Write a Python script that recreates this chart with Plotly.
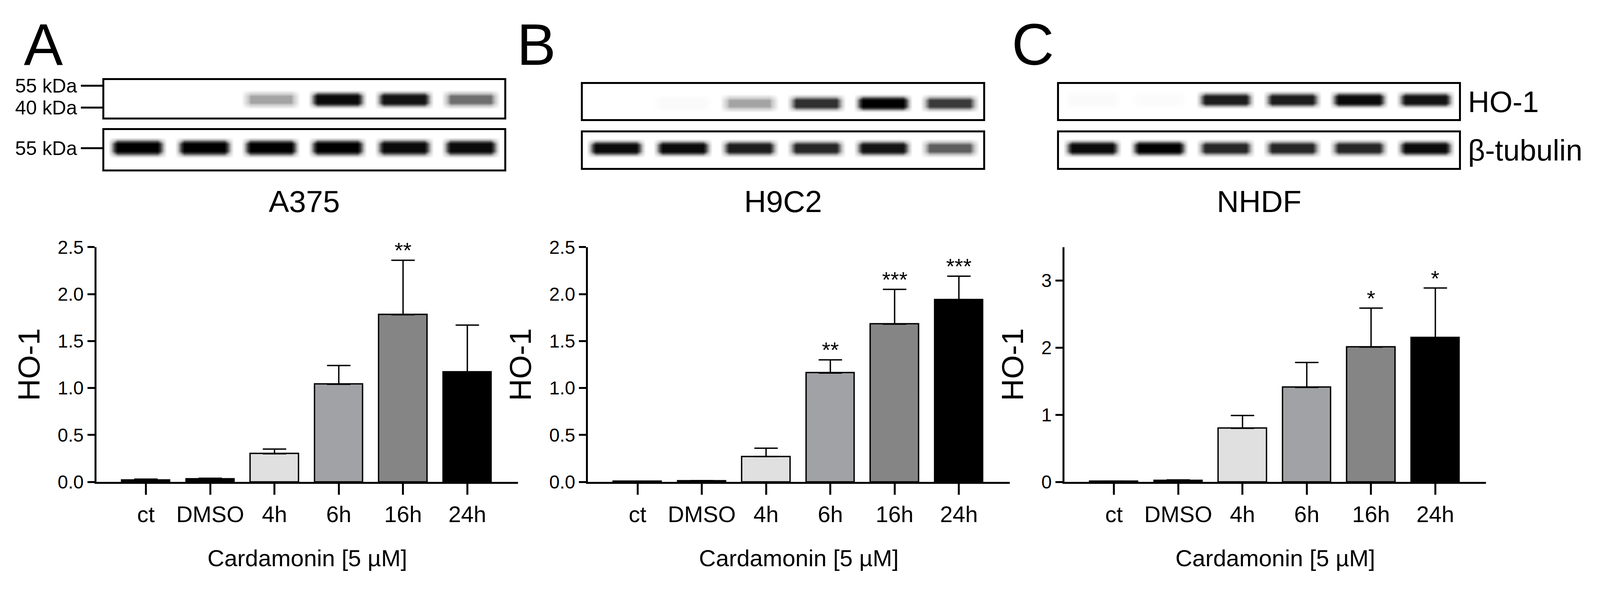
import plotly.graph_objects as go

W, H = 4214, 1516
categories = ["ct", "DMSO", "4h", "6h", "16h", "24h"]
bar_colors = ["#000000", "#000000", "#e0e0e0", "#a1a2a6", "#858585", "#000000"]

a375_vals = [0.02, 0.03, 0.30, 1.04, 1.78, 1.17]
a375_err = [0.01, 0.01, 0.05, 0.20, 0.58, 0.50]
a375_sig = ["", "", "", "", "**", ""]

h9c2_vals = [0.005, 0.01, 0.27, 1.16, 1.68, 1.94]
h9c2_err = [0.0, 0.005, 0.09, 0.14, 0.37, 0.25]
h9c2_sig = ["", "", "", "**", "***", "***"]

nhdf_vals = [0.01, 0.02, 0.80, 1.41, 2.01, 2.15]
nhdf_err = [0.0, 0.01, 0.19, 0.37, 0.58, 0.74]
nhdf_sig = ["", "", "", "", "*", "*"]

a375_ho1 = [0.0, 0.0, 0.4, 0.95, 0.9, 0.55]
a375_tub = [1.0, 1.0, 1.0, 1.0, 0.95, 0.95]
h9c2_ho1 = [0.0, 0.03, 0.4, 0.75, 1.0, 0.7]
h9c2_tub = [0.95, 0.95, 0.85, 0.8, 0.9, 0.6]
nhdf_ho1 = [0.03, 0.02, 0.85, 0.85, 0.95, 0.9]
nhdf_tub = [0.95, 1.0, 0.8, 0.8, 0.8, 0.95]

FONT = "Liberation Sans"
fig = go.Figure()

def px(x): return x / W
def py(y): return 1 - y / H

panels = [
    dict(name="A375", letter="A", vals=a375_vals, err=a375_err, sig=a375_sig, ho1=a375_ho1, tub=a375_tub,
         ax=247, blot=(268, 1326), b1=(180, 280), b2=(314, 420), yr=[0, 2.5], dt=0.5, fmt=".1f", lx=107, yc=0.48),
    dict(name="H9C2", letter="B", vals=h9c2_vals, err=h9c2_err, sig=h9c2_sig, ho1=h9c2_ho1, tub=h9c2_tub,
         ax=1548, blot=(1534, 2594), b1=(190, 285), b2=(320, 416), yr=[0, 2.5], dt=0.5, fmt=".1f", lx=1411, yc=0.45),
    dict(name="NHDF", letter="C", vals=nhdf_vals, err=nhdf_err, sig=nhdf_sig, ho1=nhdf_ho1, tub=nhdf_tub,
         ax=2809, blot=(2795, 3853), b1=(190, 285), b2=(320, 416), yr=[0, 3.5], dt=1, fmt="d", lx=2725, yc=0.55),
]

gray_scale = [[0, "#ffffff"], [0.3, "#c8c8c8"], [0.7, "#3a3a3a"], [1, "#000000"]]

annotations = []
n = 0
for i, p in enumerate(panels):
    n += 1
    xa, ya = f"x{n}", f"y{n}"
    xk, yk = ("xaxis" if n == 1 else f"xaxis{n}"), ("yaxis" if n == 1 else f"yaxis{n}")
    fig.add_trace(go.Bar(x=list(range(6)), y=p["vals"], marker=dict(color=bar_colors, line=dict(color="black", width=3.5)),
                         width=0.75, error_y=dict(type="data", array=p["err"], arrayminus=[0]*6, color="black", thickness=3.5, width=30),
                         xaxis=xa, yaxis=ya, showlegend=False))
    fig.layout[xk] = dict(domain=[px(p["ax"]), px(p["ax"] + 1116)], range=[-0.77, 5.79], anchor=ya,
                          tickvals=list(range(6)), ticktext=categories, showline=True, linewidth=5, linecolor="black",
                          ticks="outside", ticklen=28, tickwidth=5, tickcolor="black", showgrid=False, zeroline=False,
                          tickfont=dict(family=FONT, size=58, color="black"),
                          title=dict(text="Cardamonin [5 µM]", font=dict(family=FONT, size=60, color="black"), standoff=62))
    fig.layout[yk] = dict(domain=[py(1261), py(629)], range=p["yr"], anchor=xa,
                          dtick=p["dt"], tickformat=p["fmt"], showline=True, linewidth=5, linecolor="black",
                          ticks="outside", ticklen=18, tickwidth=5, tickcolor="black", showgrid=False, zeroline=False,
                          tickfont=dict(family=FONT, size=48, color="black"),
                          title=dict(text="HO-1", font=dict(family=FONT, size=78, color="black"), standoff=22))
    for j, s in enumerate(p["sig"]):
        if s:
            annotations.append(dict(x=j, y=p["vals"][j] + p["err"][j], xref=xa, yref=ya, text=s, showarrow=False,
                                    yanchor="bottom", yshift=-8, font=dict(family=FONT, size=56, color="black")))
    for k, (band, box) in enumerate([(p["ho1"], p["b1"]), (p["tub"], p["b2"])]):
        n += 1
        xa, ya = f"x{n}", f"y{n}"
        xk, yk = f"xaxis{n}", f"yaxis{n}"
        yc = p["yc"] if k == 0 else 0.55
        xs, cols = [-0.5], [0.0]
        for j, v in enumerate(band):
            xs += [j - 0.44, j - 0.3, j + 0.3, j + 0.44]
            cols += [0.0, v, v, 0.0]
        xs.append(5.5); cols.append(0.0)
        ys = [0, yc - 0.26, yc - 0.09, yc + 0.09, yc + 0.26, 1]
        prof = [0, 0, 1, 1, 0, 0]
        z = [[c * r for c in cols] for r in prof]
        fig.add_trace(go.Heatmap(x=xs, y=ys, z=z, zmin=0, zmax=1, zsmooth="best", colorscale=gray_scale,
                                 showscale=False, hoverinfo="skip", xaxis=xa, yaxis=ya))
        fig.layout[xk] = dict(domain=[px(p["blot"][0]), px(p["blot"][1])], range=[-0.5, 5.5], anchor=ya,
                              showline=True, mirror=True, linewidth=5, linecolor="black", showticklabels=False,
                              ticks="", showgrid=False, zeroline=False)
        ydict = dict(domain=[py(box[1]), py(box[0])], range=[0, 1], anchor=xa, showline=True, mirror=True,
                     linewidth=5, linecolor="black", showgrid=False, zeroline=False, showticklabels=False, ticks="")
        if i == 0:
            if k == 0:
                ydict.update(tickvals=[0.85, 0.26], ticktext=["55 kDa", "40 kDa"])
            else:
                ydict.update(tickvals=[0.54], ticktext=["55 kDa"])
            ydict.update(showticklabels=True, ticks="outside", ticklen=55, tickwidth=5, tickcolor="black",
                         tickfont=dict(family=FONT, size=50, color="black"))
        fig.layout[yk] = ydict
    annotations.append(dict(x=px((p["blot"][0] + p["blot"][1]) / 2), y=py(506), xref="paper", yref="paper",
                            xanchor="center", yanchor="middle",
                            text=p["name"], showarrow=False, font=dict(family=FONT, size=78, color="black")))
    annotations.append(dict(x=px(p["lx"]), y=py(84), xref="paper", yref="paper", text=p["letter"],
                            xanchor="center", yanchor="middle",
                            showarrow=False, font=dict(family=FONT, size=150, color="black")))

annotations.append(dict(x=px(3875), y=py(238), xref="paper", yref="paper", text="HO-1", xanchor="left", yanchor="middle",
                        showarrow=False, font=dict(family=FONT, size=76, color="black")))
annotations.append(dict(x=px(3875), y=py(368), xref="paper", yref="paper", text="β-tubulin", xanchor="left", yanchor="middle",
                        showarrow=False, font=dict(family=FONT, size=76, color="black")))

fig.update_layout(autosize=True, margin=dict(l=0, r=0, t=0, b=0), plot_bgcolor="white",
                  paper_bgcolor="white", annotations=annotations, bargap=0)
fig.write_html("out.html", default_width="calc(100vw - 20px)", default_height="calc(100vh - 20px)")
